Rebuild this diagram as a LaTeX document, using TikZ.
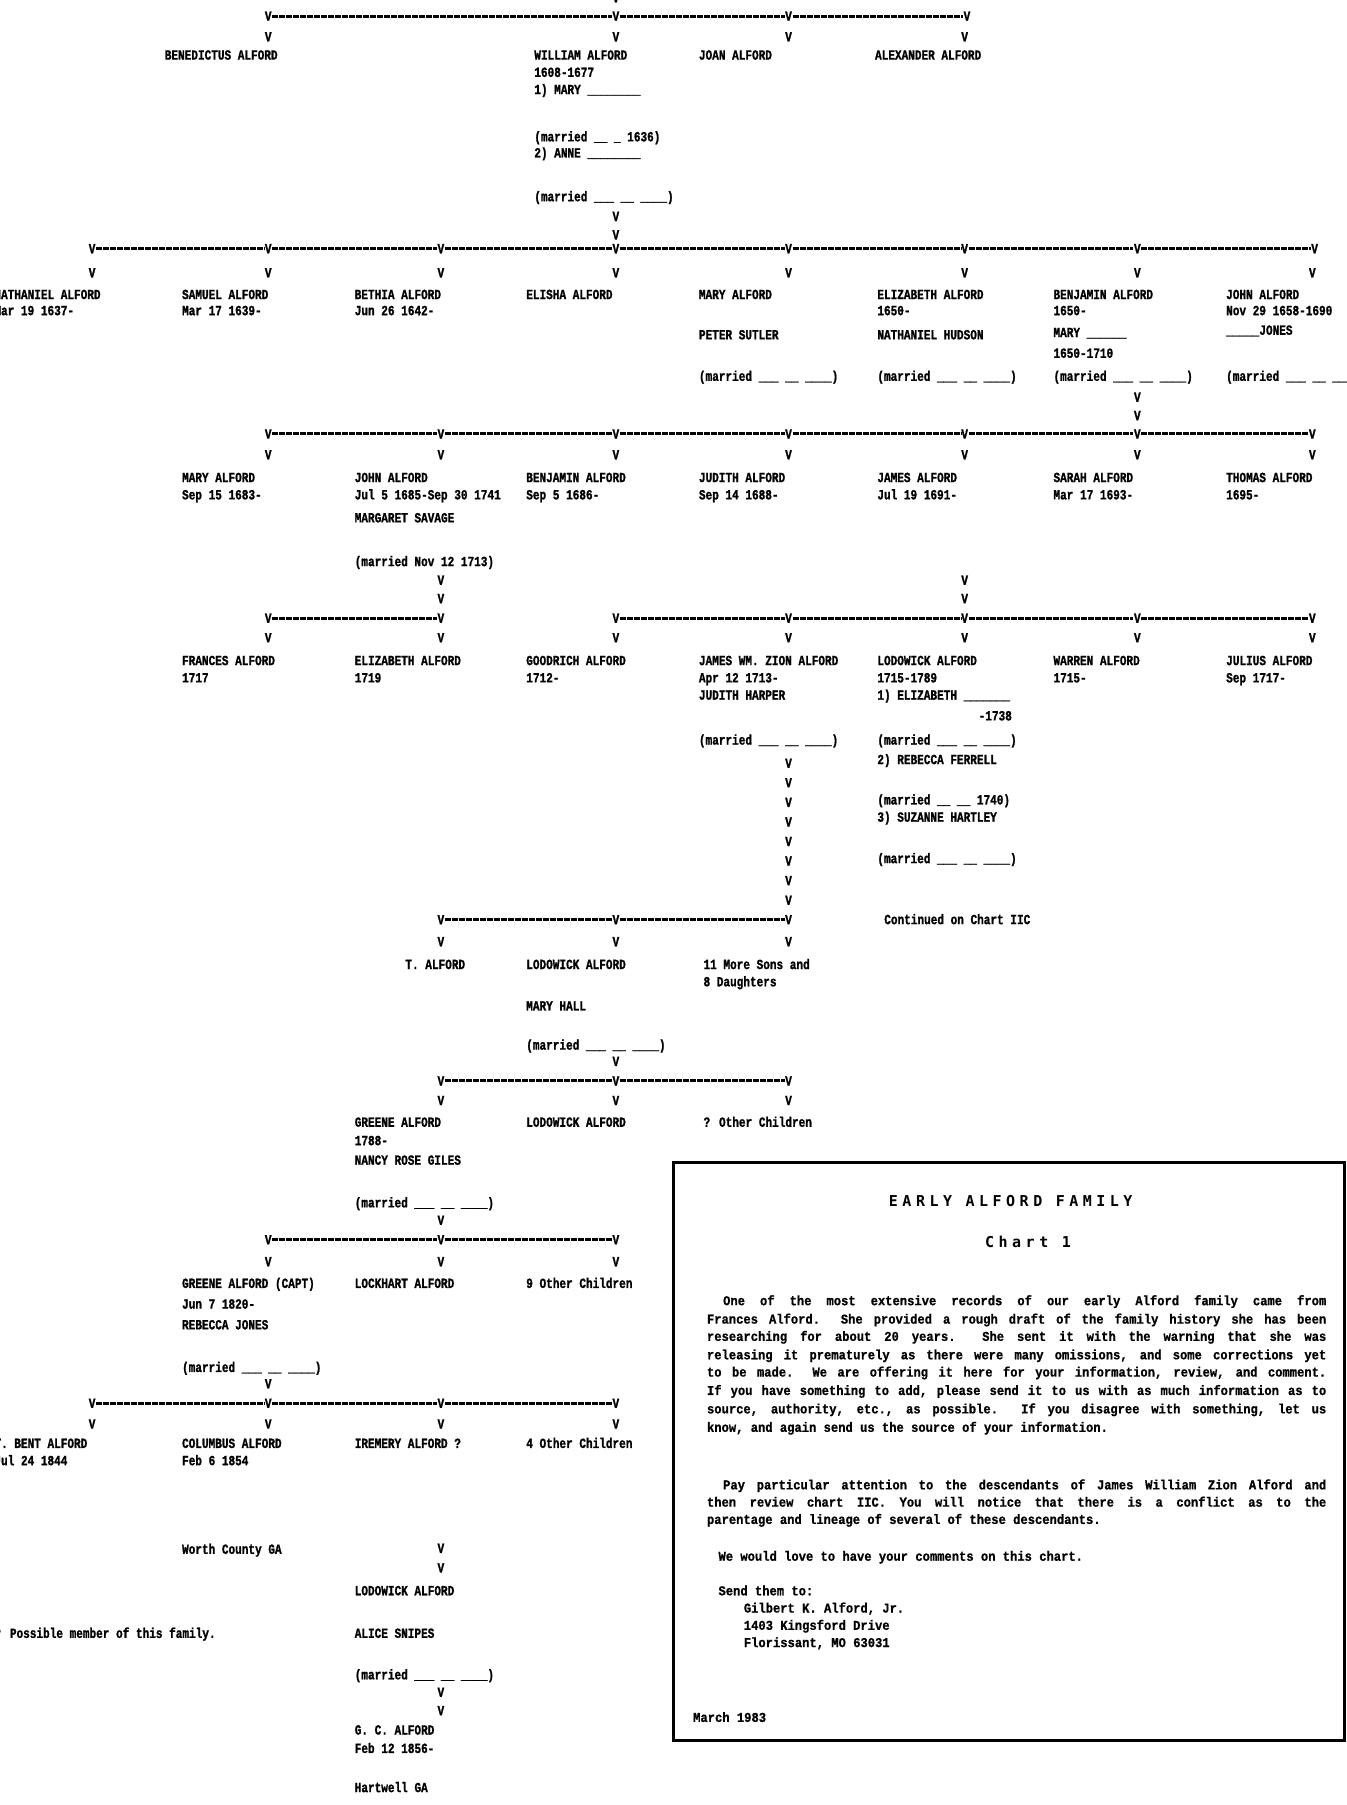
\documentclass[tikz,border=0pt]{standalone}
\usepackage{fontspec}
\newfontfamily\dmfont{Liberation Mono}[FakeStretch=0.79, BoldFeatures={FakeBold=1.2}]
\newfontfamily\bxfont{Liberation Mono}[FakeStretch=0.9, BoldFeatures={FakeBold=0.8}]
\newfontfamily\ttlfont{DejaVu Sans Mono}[LetterSpace=30]
\newcommand\chartfont{\dmfont\bfseries\fontsize{14}{16}\selectfont}
\newcommand\boxtextfont{\bxfont\bfseries\fontsize{13.5}{15}\selectfont}
\newcommand\titlefnt{\ttlfont\bfseries\fontsize{15}{18}\selectfont}
\newcommand\TX[4]{\node[txt] (#1) at (#2,#3+3.8) {#4};}
\newcommand\VM[3]{\node[vm] (#1) at (#2,#3) {V};}
\newcommand\JL[5]{\node[btxt] (#1) at (#2,#3+3.8) {\makebox[\dimexpr1.1513pt*#4\relax][s]{#5}};}
\newcommand\BL[4]{\node[btxt] (#1) at (#2,#3+3.8) {#4};}
\begin{document}
\begin{tikzpicture}[x=1.1513pt,y=-1.1513pt,
  txt/.style={font=\chartfont, anchor=base west, inner sep=0pt},
  vm/.style={font=\chartfont, inner sep=0.5pt},
  hl/.style={line width=3pt, dash pattern=on 6pt off 1pt},
  btxt/.style={font=\boxtextfont, anchor=base west, inner sep=0pt},
  ttl/.style={font=\titlefnt, inner sep=0pt}]
\useasboundingbox (0,0) rectangle (1170,1568);
\fill[white] (0,0) rectangle (1170,1568);

% ---------- generation 1
\VM{g1top}{535}{-2}
\VM{g1a}{233}{14}\VM{g1b}{535}{14}\VM{g1c}{685}{14}\VM{g1d}{840}{14}
\draw[hl] (g1a) -- (g1b) -- (g1c) -- (g1d);
\VM{g1av}{233}{32}\VM{g1bv}{535}{32}\VM{g1cv}{685}{32}\VM{g1dv}{838}{32}
\TX{benedictus}{143}{48}{BENEDICTUS ALFORD}
\TX{william}{464}{48}{WILLIAM ALFORD}
\TX{williamd}{464}{63}{1608-1677}
\TX{williams}{464}{78}{1) MARY \_\_\_\_\_\_\_\_}
\TX{williamm}{464}{119}{(married \_\_ \_ 1636)}
\TX{williamt}{464}{133}{2) ANNE \_\_\_\_\_\_\_\_}
\TX{williamn}{464}{171}{(married \_\_\_ \_\_ \_\_\_\_)}
\VM{wv1}{535}{188}\VM{wv2}{535}{204}
\TX{joan}{607}{48}{JOAN ALFORD}
\TX{alexander}{760}{48}{ALEXANDER ALFORD}

% ---------- generation 2
\VM{g2a}{80}{216}\VM{g2b}{233}{216}\VM{g2c}{383}{216}\VM{g2d}{535}{216}
\VM{g2e}{685}{216}\VM{g2f}{838}{216}\VM{g2g}{988}{216}\VM{g2h}{1142}{216}
\draw[hl] (g2a) -- (g2b) -- (g2c) -- (g2d) -- (g2e) -- (g2f) -- (g2g) -- (g2h);
\VM{g2av}{80}{237}\VM{g2bv}{233}{237}\VM{g2cv}{383}{237}\VM{g2dv}{535}{237}
\VM{g2ev}{685}{237}\VM{g2fv}{838}{237}\VM{g2gv}{988}{237}\VM{g2hv}{1140}{237}
\TX{nathaniel}{-5}{256}{NATHANIEL ALFORD}
\TX{nathanield}{-5}{270}{Mar 19 1637-}
\TX{samuel}{158}{256}{SAMUEL ALFORD}
\TX{samueld}{158}{270}{Mar 17 1639-}
\TX{bethia}{308}{256}{BETHIA ALFORD}
\TX{bethiad}{308}{270}{Jun 26 1642-}
\TX{elisha}{457}{256}{ELISHA ALFORD}
\TX{mary}{607}{256}{MARY ALFORD}
\TX{marys}{607}{291}{PETER SUTLER}
\TX{marym}{607}{327}{(married \_\_\_ \_\_ \_\_\_\_)}
\TX{elizabeth}{762}{256}{ELIZABETH ALFORD}
\TX{elizabethd}{762}{270}{1650-}
\TX{elizabeths}{762}{291}{NATHANIEL HUDSON}
\TX{elizabethm}{762}{327}{(married \_\_\_ \_\_ \_\_\_\_)}
\TX{benjamin}{915}{256}{BENJAMIN ALFORD}
\TX{benjamind}{915}{270}{1650-}
\TX{benjamins}{915}{289}{MARY \_\_\_\_\_\_}
\TX{benjaminsd}{915}{307}{1650-1710}
\TX{benjaminm}{915}{327}{(married \_\_\_ \_\_ \_\_\_\_)}
\TX{john}{1065}{256}{JOHN ALFORD}
\TX{johnd}{1065}{270}{Nov 29 1658-1690}
\TX{johns}{1065}{287}{\_\_\_\_\_JONES}
\TX{johnm}{1065}{327}{(married \_\_\_ \_\_ \_\_\_\_)}
\VM{bv1}{988}{345}\VM{bv2}{988}{361}

% ---------- generation 3
\VM{g3b}{233}{377}\VM{g3c}{383}{377}\VM{g3d}{535}{377}\VM{g3e}{685}{377}
\VM{g3f}{838}{377}\VM{g3g}{988}{377}\VM{g3h}{1140}{377}
\draw[hl] (g3b) -- (g3c) -- (g3d) -- (g3e) -- (g3f) -- (g3g) -- (g3h);
\VM{g3bv}{233}{395}\VM{g3cv}{383}{395}\VM{g3dv}{535}{395}\VM{g3ev}{685}{395}
\VM{g3fv}{838}{395}\VM{g3gv}{988}{395}\VM{g3hv}{1140}{395}
\TX{mary3}{158}{415}{MARY ALFORD}
\TX{mary3d}{158}{430}{Sep 15 1683-}
\TX{john3}{308}{415}{JOHN ALFORD}
\TX{john3d}{308}{430}{Jul 5 1685-Sep 30 1741}
\TX{john3s}{308}{450}{MARGARET SAVAGE}
\TX{john3m}{308}{488}{(married Nov 12 1713)}
\TX{benjamin3}{457}{415}{BENJAMIN ALFORD}
\TX{benjamin3d}{457}{430}{Sep 5 1686-}
\TX{judith3}{607}{415}{JUDITH ALFORD}
\TX{judith3d}{607}{430}{Sep 14 1688-}
\TX{james3}{762}{415}{JAMES ALFORD}
\TX{james3d}{762}{430}{Jul 19 1691-}
\TX{sarah3}{915}{415}{SARAH ALFORD}
\TX{sarah3d}{915}{430}{Mar 17 1693-}
\TX{thomas3}{1065}{415}{THOMAS ALFORD}
\TX{thomas3d}{1065}{430}{1695-}
\VM{jv1}{383}{504}\VM{jv2}{383}{520}
\VM{kv1}{838}{504}\VM{kv2}{838}{520}

% ---------- generation 4
\VM{g4b}{233}{537}\VM{g4c}{383}{537}
\draw[hl] (g4b) -- (g4c);
\VM{g4d}{535}{537}\VM{g4e}{685}{537}\VM{g4f}{838}{537}\VM{g4g}{988}{537}\VM{g4h}{1140}{537}
\draw[hl] (g4d) -- (g4e) -- (g4f) -- (g4g) -- (g4h);
\VM{g4bv}{233}{554}\VM{g4cv}{383}{554}\VM{g4dv}{535}{554}\VM{g4ev}{685}{554}
\VM{g4fv}{838}{554}\VM{g4gv}{988}{554}\VM{g4hv}{1140}{554}
\TX{frances}{158}{574}{FRANCES ALFORD}
\TX{francesd}{158}{589}{1717}
\TX{eliz4}{308}{574}{ELIZABETH ALFORD}
\TX{eliz4d}{308}{589}{1719}
\TX{goodrich}{457}{574}{GOODRICH ALFORD}
\TX{goodrichd}{457}{589}{1712-}
\TX{jameswz}{607}{574}{JAMES WM. ZION ALFORD}
\TX{jameswzd}{607}{589}{Apr 12 1713-}
\TX{jameswzs}{607}{604}{JUDITH HARPER}
\TX{jameswzm}{607}{643}{(married \_\_\_ \_\_ \_\_\_\_)}
\TX{lodowick4}{762}{574}{LODOWICK ALFORD}
\TX{lodowick4d}{762}{589}{1715-1789}
\TX{lodowick4s}{762}{604}{1) ELIZABETH \_\_\_\_\_\_\_}
\TX{lodowick4sd}{850}{622}{-1738}
\TX{lodowick4m}{762}{643}{(married \_\_\_ \_\_ \_\_\_\_)}
\TX{lodowick4t}{762}{660}{2) REBECCA FERRELL}
\TX{lodowick4n}{762}{695}{(married \_\_ \_\_ 1740)}
\TX{lodowick4u}{762}{710}{3) SUZANNE HARTLEY}
\TX{lodowick4o}{762}{746}{(married \_\_\_ \_\_ \_\_\_\_)}
\TX{continued}{768}{799}{Continued on Chart IIC}
\TX{warren}{915}{574}{WARREN ALFORD}
\TX{warrend}{915}{589}{1715-}
\TX{julius}{1065}{574}{JULIUS ALFORD}
\TX{juliusd}{1065}{589}{Sep 1717-}
\VM{zc1}{685}{663}\VM{zc2}{685}{680}\VM{zc3}{685}{697}\VM{zc4}{685}{714}
\VM{zc5}{685}{731}\VM{zc6}{685}{748}\VM{zc7}{685}{765}\VM{zc8}{685}{782}

% ---------- generation 5
\VM{g5c}{383}{799}\VM{g5d}{535}{799}\VM{g5e}{685}{799}
\draw[hl] (g5c) -- (g5d) -- (g5e);
\VM{g5cv}{383}{818}\VM{g5dv}{535}{818}\VM{g5ev}{685}{818}
\TX{talford}{352}{838}{T. ALFORD}
\TX{lodowick5}{457}{838}{LODOWICK ALFORD}
\TX{lodowick5s}{457}{874}{MARY HALL}
\TX{lodowick5m}{457}{908}{(married \_\_\_ \_\_ \_\_\_\_)}
\TX{moresons}{611}{838}{11 More Sons and}
\TX{moresonsb}{611}{853}{8 Daughters}
\VM{lv1}{535}{922}

% ---------- generation 6
\VM{g6c}{383}{939}\VM{g6d}{535}{939}\VM{g6e}{685}{939}
\draw[hl] (g6c) -- (g6d) -- (g6e);
\VM{g6cv}{383}{956}\VM{g6dv}{535}{956}\VM{g6ev}{685}{956}
\TX{greene6}{308}{975}{GREENE ALFORD}
\TX{greene6d}{308}{991}{1788-}
\TX{greene6s}{308}{1008}{NANCY ROSE GILES}
\TX{greene6m}{308}{1045}{(married \_\_\_ \_\_ \_\_\_\_)}
\TX{lodowick6}{457}{975}{LODOWICK ALFORD}
\TX{other6}{611}{975}{? Other Children}
\VM{gv1}{383}{1060}

% ---------- generation 7
\VM{g7b}{233}{1077}\VM{g7c}{383}{1077}\VM{g7d}{535}{1077}
\draw[hl] (g7b) -- (g7c) -- (g7d);
\VM{g7bv}{233}{1096}\VM{g7cv}{383}{1096}\VM{g7dv}{535}{1096}
\TX{greene7}{158}{1115}{GREENE ALFORD (CAPT)}
\TX{greene7d}{158}{1133}{Jun 7 1820-}
\TX{greene7s}{158}{1151}{REBECCA JONES}
\TX{greene7m}{158}{1188}{(married \_\_\_ \_\_ \_\_\_\_)}
\TX{lockhart}{308}{1115}{LOCKHART ALFORD}
\TX{other7}{457}{1115}{9 Other Children}
\VM{cv1}{233}{1202}

% ---------- generation 8
\VM{g8a}{80}{1219}\VM{g8b}{233}{1219}\VM{g8c}{383}{1219}\VM{g8d}{535}{1219}
\draw[hl] (g8a) -- (g8b) -- (g8c) -- (g8d);
\VM{g8av}{80}{1237}\VM{g8bv}{233}{1237}\VM{g8cv}{383}{1237}\VM{g8dv}{535}{1237}
\TX{bent}{-5}{1254}{T. BENT ALFORD}
\TX{bentd}{-5}{1269}{Jul 24 1844}
\TX{columbus}{158}{1254}{COLUMBUS ALFORD}
\TX{columbusd}{158}{1269}{Feb 6 1854}
\TX{columbusp}{158}{1346}{Worth County GA}
\TX{iremery}{308}{1254}{IREMERY ALFORD ?}
\TX{other8}{457}{1254}{4 Other Children}
\VM{iv1}{383}{1345}\VM{iv2}{383}{1362}
\TX{lodowick9}{308}{1382}{LODOWICK ALFORD}
\TX{lodowick9s}{308}{1419}{ALICE SNIPES}
\TX{lodowick9m}{308}{1455}{(married \_\_\_ \_\_ \_\_\_\_)}
\VM{ov1}{383}{1470}\VM{ov2}{383}{1486}
\TX{gcalford}{308}{1503}{G. C. ALFORD}
\TX{gcalfordd}{308}{1519}{Feb 12 1856-}
\TX{gcalfordp}{308}{1553}{Hartwell GA}
\TX{possible}{-5}{1419}{? Possible member of this family.}

% ---------- info box
\draw[line width=3.5pt] (585,1010) rectangle (1168,1512);
\node[ttl] (title) at (878,1043) {EARLY ALFORD FAMILY};
\node[ttl] (chart) at (893,1079) {Chart 1};
\JL{p1}{628}{1130}{524}{One of the most extensive records of our early Alford family came from}
\JL{p2}{614}{1146}{538}{Frances Alford. She provided a rough draft of the family history she has been}
\JL{p3}{614}{1161}{538}{researching for about 20 years. She sent it with the warning that she was}
\JL{p4}{614}{1177}{538}{releasing it prematurely as there were many omissions, and some corrections yet}
\JL{p5}{614}{1192}{538}{to be made. We are offering it here for your information, review, and comment.}
\JL{p6}{614}{1208}{538}{If you have something to add, please send it to us with as much information as to}
\JL{p7}{614}{1224}{538}{source, authority, etc., as possible. If you disagree with something, let us}
\BL{p8}{614}{1240}{know, and again send us the source of your information.}
\JL{q1}{628}{1290}{524}{Pay particular attention to the descendants of James William Zion Alford and}
\JL{q2}{614}{1305}{538}{then review chart IIC. You will notice that there is a conflict as to the}
\BL{q3}{614}{1320}{parentage and lineage of several of these descendants.}
\BL{r1}{624}{1352}{We would love to have your comments on this chart.}
\BL{s1}{624}{1382}{Send them to:}
\BL{s2}{646}{1397}{Gilbert K. Alford, Jr.}
\BL{s3}{646}{1412}{1403 Kingsford Drive}
\BL{s4}{646}{1427}{Florissant, MO 63031}
\BL{dt}{602}{1492}{March 1983}
\end{tikzpicture}
\end{document}
